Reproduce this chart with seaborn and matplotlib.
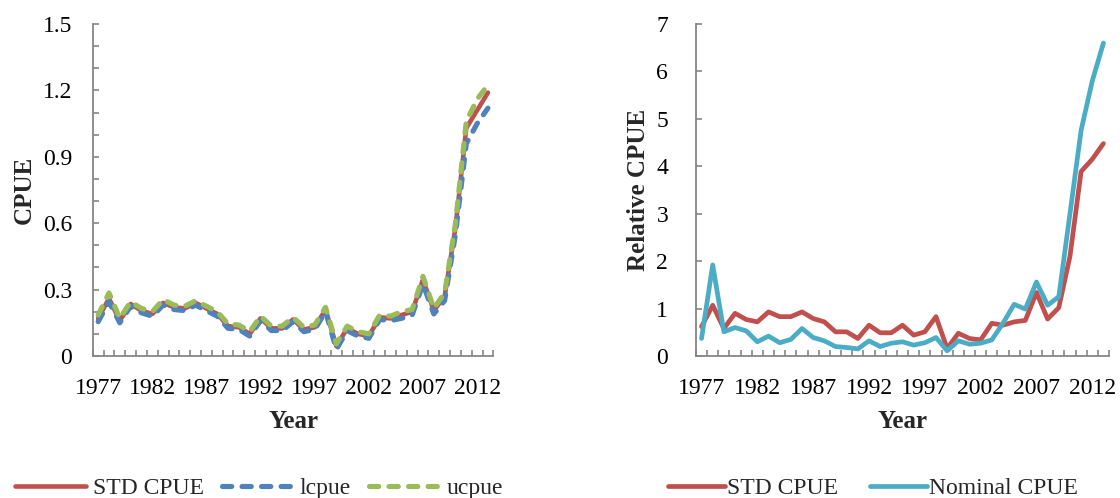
import numpy as np
import pandas as pd
import matplotlib
matplotlib.use("Agg")
import matplotlib.pyplot as plt
from matplotlib.ticker import MultipleLocator, FixedLocator, FuncFormatter
import seaborn as sns

years = list(range(1977, 2014))

std_cpue = [0.17, 0.26, 0.16, 0.235, 0.205, 0.19, 0.24, 0.22, 0.215, 0.24,
            0.215, 0.19, 0.135, 0.13, 0.10, 0.17, 0.125, 0.125, 0.165, 0.12,
            0.13, 0.21, 0.045, 0.125, 0.10, 0.09, 0.175, 0.17, 0.185, 0.20,
            0.345, 0.205, 0.27, 0.58, 1.03, 1.11, 1.19]
lcpue = [0.155, 0.245, 0.15, 0.225, 0.195, 0.18, 0.23, 0.21, 0.205, 0.23,
         0.205, 0.18, 0.125, 0.12, 0.09, 0.16, 0.115, 0.115, 0.155, 0.11,
         0.12, 0.20, 0.03, 0.115, 0.09, 0.08, 0.165, 0.16, 0.17, 0.185,
         0.325, 0.19, 0.25, 0.55, 0.96, 1.05, 1.12]
ucpue = [0.185, 0.285, 0.17, 0.245, 0.215, 0.20, 0.255, 0.23, 0.225, 0.25,
         0.225, 0.20, 0.145, 0.14, 0.11, 0.18, 0.135, 0.135, 0.175, 0.13,
         0.14, 0.22, 0.055, 0.135, 0.11, 0.10, 0.185, 0.18, 0.20, 0.21,
         0.36, 0.215, 0.285, 0.60, 1.06, 1.16, 1.225]

rel_std = [0.62, 1.07, 0.58, 0.90, 0.77, 0.72, 0.93, 0.83, 0.83, 0.93,
           0.79, 0.72, 0.51, 0.51, 0.37, 0.65, 0.49, 0.49, 0.65, 0.44,
           0.51, 0.83, 0.16, 0.48, 0.37, 0.34, 0.69, 0.65, 0.72, 0.75,
           1.34, 0.78, 1.02, 2.10, 3.89, 4.15, 4.48]
rel_nominal = [0.37, 1.92, 0.51, 0.60, 0.53, 0.30, 0.42, 0.28, 0.35, 0.58,
               0.39, 0.32, 0.20, 0.18, 0.15, 0.32, 0.20, 0.27, 0.30, 0.23,
               0.28, 0.39, 0.11, 0.32, 0.25, 0.27, 0.34, 0.69, 1.09, 0.99,
               1.56, 1.07, 1.25, 3.00, 4.76, 5.80, 6.60]

year_labels = [1977, 1982, 1987, 1992, 1997, 2002, 2007, 2012]

RED = "#C0504D"
BLUE = "#4F81BD"
GREEN = "#9BBB59"
CYAN = "#4BACC6"
AXC = "#868686"

sns.set_theme(style="white")
plt.rcParams["font.family"] = ["Liberation Serif", "DejaVu Serif"]

FS = 17

fig = plt.figure(figsize=(11.2, 4.98), dpi=100)
ax1 = fig.add_axes([0.0828, 0.2851, 0.3577, 0.6667])
ax2 = fig.add_axes([0.6214, 0.2851, 0.3688, 0.6667])

df1 = pd.DataFrame({"Year": years, "STD CPUE": std_cpue, "lcpue": lcpue, "ucpue": ucpue})
df2 = pd.DataFrame({"Year": years, "STD CPUE": rel_std, "Nominal CPUE": rel_nominal})

dash = (0, (1.8, 2.0))
sns.lineplot(data=df1, x="Year", y="STD CPUE", ax=ax1, color=RED, lw=3.3,
             label="STD CPUE", solid_capstyle="round")
sns.lineplot(data=df1, x="Year", y="lcpue", ax=ax1, color=BLUE, lw=3.7,
             linestyle=dash, dash_capstyle="round", label="lcpue")
sns.lineplot(data=df1, x="Year", y="ucpue", ax=ax1, color=GREEN, lw=3.7,
             linestyle=dash, dash_capstyle="round", label="ucpue")

sns.lineplot(data=df2, x="Year", y="STD CPUE", ax=ax2, color=RED, lw=3.4,
             label="STD CPUE", solid_capstyle="round")
sns.lineplot(data=df2, x="Year", y="Nominal CPUE", ax=ax2, color=CYAN, lw=3.4,
             label="Nominal CPUE", solid_capstyle="round")

for ax in (ax1, ax2):
    lg = ax.get_legend()
    if lg is not None:
        lg.remove()
    ax.set_xlim(years[0] - 0.5, years[-1] + 0.5)
    ax.xaxis.set_major_locator(FixedLocator(year_labels))
    ax.xaxis.set_minor_locator(FixedLocator([y - 0.5 for y in years] + [years[-1] + 0.5]))
    ax.tick_params(axis="x", which="major", bottom=True, length=0, pad=16,
                   labelsize=FS, colors="black")
    ax.tick_params(axis="x", which="minor", bottom=True, length=4.5, width=1.2,
                   direction="in", color=AXC)
    ax.tick_params(axis="y", which="both", left=True, length=4.5, width=1.2,
                   direction="in", color=AXC, labelsize=FS, labelcolor="black")
    for s in ("top", "right"):
        ax.spines[s].set_visible(False)
    for s in ("left", "bottom"):
        ax.spines[s].set_color(AXC)
        ax.spines[s].set_linewidth(1.3)
    ax.set_xlabel("Year", fontsize=FS + 1, fontweight="bold")
    ax.xaxis.set_label_coords(0.5, -0.162)
    ax.grid(False)

ax1.set_ylim(0, 1.5)
ax1.yaxis.set_major_locator(FixedLocator([0, 0.3, 0.6, 0.9, 1.2, 1.5]))
ax1.yaxis.set_minor_locator(MultipleLocator(0.1))
ax1.yaxis.set_major_formatter(FuncFormatter(lambda v, p: "0" if abs(v) < 1e-9 else f"{v:.1f}"))
ax1.tick_params(axis="y", which="major", pad=15)
ax1.set_ylabel("CPUE", fontsize=FS + 1, fontweight="bold")
ax1.yaxis.set_label_coords(-0.142, 0.5)

ax2.set_ylim(0, 7)
ax2.yaxis.set_major_locator(MultipleLocator(1))
ax2.yaxis.set_major_formatter(FuncFormatter(lambda v, p: f"{int(round(v))}"))
ax2.tick_params(axis="y", which="major", pad=20)
ax2.set_ylabel("Relative CPUE", fontsize=FS + 1, fontweight="bold")
ax2.yaxis.set_label_coords(-0.111, 0.5)

h1, l1 = ax1.get_legend_handles_labels()
fig.legend(h1, l1, loc="center left", bbox_to_anchor=(15 / 1120, 10 / 498), ncol=3,
           frameon=False, fontsize=FS, handlelength=3.0, handletextpad=0.3,
           columnspacing=0.76, borderpad=0, borderaxespad=0)
h2, l2 = ax2.get_legend_handles_labels()
fig.legend(h2, l2, loc="center left", bbox_to_anchor=(668 / 1120, 10 / 498), ncol=2,
           frameon=False, fontsize=FS, handlelength=2.4, handletextpad=0.1,
           columnspacing=1.35, borderpad=0, borderaxespad=0)

fig.savefig("out.png", dpi=100, facecolor="white")
